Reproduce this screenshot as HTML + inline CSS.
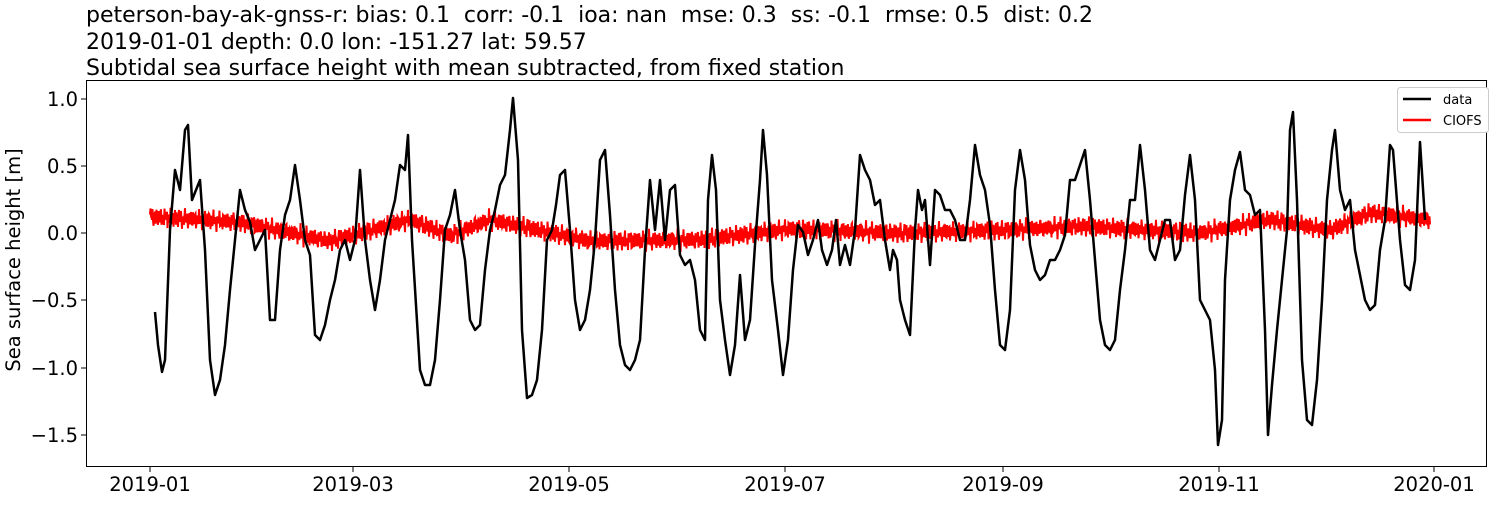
<!DOCTYPE html>
<html><head><meta charset="utf-8"><style>
body{margin:0;background:#fff;}
svg text{font-family:"DejaVu Sans","Liberation Sans",sans-serif;white-space:pre;}
</style></head><body>
<svg id="s" width="1500" height="500" xmlns="http://www.w3.org/2000/svg" xml:space="preserve">
<rect width="1500" height="500" fill="#fff"/>
<text x="86" y="22" font-size="22">peterson-bay-ak-gnss-r: bias: 0.1  corr: -0.1  ioa: nan  mse: 0.3  ss: -0.1  rmse: 0.5  dist: 0.2</text>
<text x="86" y="49" font-size="22">2019-01-01 depth: 0.0 lon: -151.27 lat: 59.57</text>
<text x="86" y="75" font-size="22">Subtidal sea surface height with mean subtracted, from fixed station</text>
<g id="plot"></g>
<rect x="86.5" y="80.5" width="1400" height="386" fill="none" stroke="#000" stroke-width="1"/>
<g font-size="19.5" text-anchor="end">
<text x="78" y="106">1.0</text><text x="78" y="173">0.5</text><text x="78" y="240">0.0</text>
<text x="78" y="307">−0.5</text><text x="78" y="375">−1.0</text><text x="78" y="442">−1.5</text>
</g>
<g stroke="#000"><line x1="81" x2="86" y1="99" y2="99"/><line x1="81" x2="86" y1="166" y2="166"/><line x1="81" x2="86" y1="233" y2="233"/><line x1="81" x2="86" y1="300" y2="300"/><line x1="81" x2="86" y1="368" y2="368"/><line x1="81" x2="86" y1="435" y2="435"/>
<line y1="467" y2="472" x1="150" x2="150"/><line y1="467" y2="472" x1="353" x2="353"/><line y1="467" y2="472" x1="569" x2="569"/><line y1="467" y2="472" x1="785" x2="785"/><line y1="467" y2="472" x1="1003" x2="1003"/><line y1="467" y2="472" x1="1219" x2="1219"/><line y1="467" y2="472" x1="1434" x2="1434"/></g>
<g font-size="19.5" text-anchor="middle">
<text x="150" y="491">2019-01</text><text x="353" y="491">2019-03</text><text x="569" y="491">2019-05</text><text x="785" y="491">2019-07</text><text x="1003" y="491">2019-09</text><text x="1219" y="491">2019-11</text><text x="1434" y="491">2020-01</text>
</g>
<text transform="translate(20,260) rotate(-90)" font-size="19.5" text-anchor="middle">Sea surface height [m]</text>
<rect x="1397.5" y="87.5" width="91" height="45" fill="#fff" stroke="#ccc" rx="3"/>
<line x1="1403" x2="1431" y1="99" y2="99" stroke="#000" stroke-width="2.5"/>
<line x1="1403" x2="1431" y1="120" y2="120" stroke="#f00" stroke-width="2.5"/>
<text x="1443" y="104" font-size="13">data</text>
<text x="1443" y="125" font-size="13">CIOFS</text>
</svg>
<script>
var b=[155,312,158,345,162,372,165,360,170,230,175,170,180,190,185,130,188,125,192,200,196,190,200,180,205,250,210,360,215,395,220,380,225,345,230,290,235,240,240,190,245,210,250,222,255,250,260,240,265,230,270,320,275,320,280,250,285,215,290,200,295,165,300,200,305,240,310,255,315,335,320,340,325,325,330,300,335,280,340,250,345,240,350,260,355,240,360,170,365,240,370,280,375,310,380,280,385,240,390,220,395,200,400,165,405,170,408,135,412,240,420,370,425,385,430,385,435,360,440,300,445,230,450,215,455,190,460,230,465,260,470,320,475,330,480,325,485,270,490,230,495,210,500,185,505,175,510,130,513,98,518,160,522,330,527,398,532,395,537,380,542,330,547,240,552,230,556,205,560,175,565,170,570,230,575,300,580,330,585,320,590,290,595,240,600,160,605,150,610,215,615,290,620,345,625,365,630,370,635,360,640,340,645,250,650,180,655,230,660,180,665,240,670,190,675,185,680,255,685,265,690,260,695,280,700,330,705,340,708,200,712,155,716,190,720,300,725,340,730,375,735,345,740,275,745,340,750,320,755,245,760,180,763,130,767,175,772,280,778,330,783,375,788,340,793,270,798,225,803,232,808,255,813,240,818,220,822,250,827,265,832,250,836,220,840,265,845,245,850,265,855,230,860,155,865,170,870,180,875,205,880,200,885,240,890,270,893,250,897,260,900,300,905,320,910,335,915,230,918,190,922,210,925,200,930,265,935,190,940,195,945,210,950,210,955,220,960,240,965,240,970,200,975,145,980,175,985,190,990,225,995,290,1000,345,1005,350,1010,310,1015,190,1020,150,1025,180,1030,245,1035,270,1040,280,1045,275,1050,260,1055,260,1060,250,1065,235,1070,180,1075,180,1080,165,1085,150,1090,200,1095,260,1100,320,1105,345,1110,350,1115,340,1120,290,1125,250,1130,200,1135,200,1140,145,1145,190,1150,250,1155,260,1160,240,1165,220,1170,220,1175,260,1180,250,1185,195,1190,155,1195,200,1200,300,1205,310,1210,320,1215,370,1218,445,1222,420,1225,280,1230,200,1235,170,1240,152,1245,190,1250,195,1255,215,1260,210,1265,330,1268,435,1272,385,1277,330,1282,280,1287,230,1290,130,1293,112,1297,200,1302,360,1307,420,1312,425,1317,380,1322,300,1327,200,1332,150,1335,130,1340,190,1345,210,1350,200,1355,250,1360,275,1365,300,1370,310,1375,305,1380,250,1385,220,1390,145,1393,150,1400,240,1405,285,1410,290,1415,260,1420,142,1425,220];
var p="";for(var i=0;i<b.length;i+=2)p+=b[i]+","+b[i+1]+" ";
var tr=[[150,0.12],[200,0.1],[240,0.08],[330,-0.06],[410,0.1],[450,-0.02],[490,0.1],[590,-0.06],[700,-0.05],[790,0.03],[900,0.0],[1000,0.02],[1080,0.05],[1200,0.0],[1270,0.1],[1330,0.02],[1370,0.15],[1430,0.1]];
function T(x){for(var k=0;k<tr.length-1;k++){if(x<=tr[k+1][0]){var f=(x-tr[k][0])/(tr[k+1][0]-tr[k][0]);return tr[k][1]+f*(tr[k+1][1]-tr[k][1]);}}return 0.1;}
var r="";for(var x=150;x<=1430;x+=0.5){var v=T(x)+0.045*Math.sin(x*3.1)+0.025*Math.sin(x*7.3+1)+0.02*Math.sin(x*1.3);r+=x+","+(233-134.5*v).toFixed(1)+" ";}
document.getElementById("plot").innerHTML='<polyline points="'+r+'" fill="none" stroke="#f00" stroke-width="2"/><polyline points="'+p+'" fill="none" stroke="#000" stroke-width="2.5" stroke-linejoin="round"/>';
</script>
</body></html>
